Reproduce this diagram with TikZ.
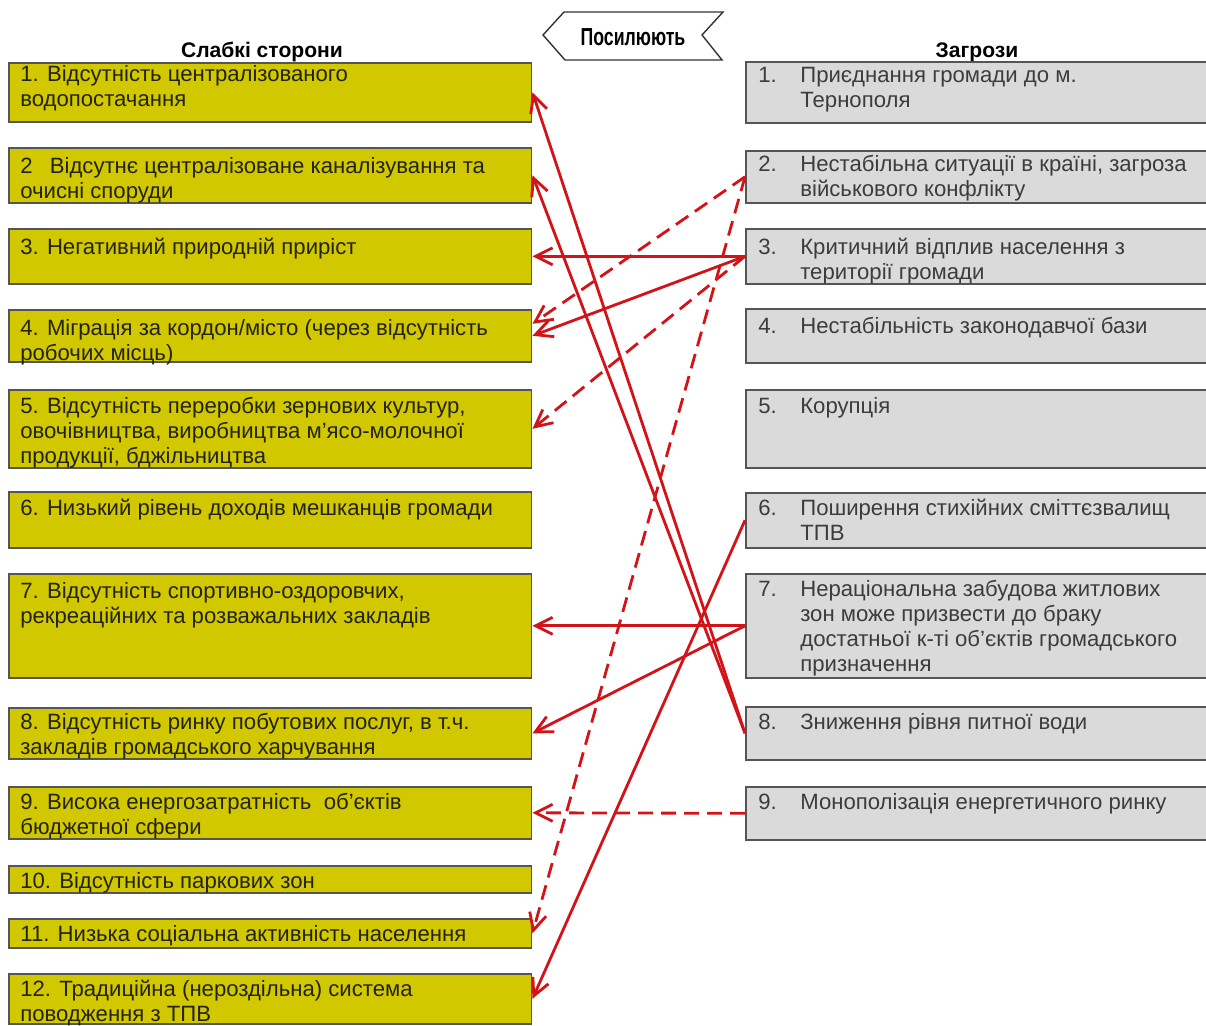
\documentclass[tikz,border=0pt]{standalone}
\usepackage{fontspec}
\setmainfont{Liberation Sans}
\usetikzlibrary{arrows.meta,positioning}
\definecolor{WeakFill}{RGB}{210,200,0}
\definecolor{ThreatFill}{RGB}{218,218,218}
\definecolor{BoxLine}{RGB}{85,85,85}
\definecolor{LinkRed}{RGB}{210,20,25}
\definecolor{WeakText}{RGB}{35,35,10}
\definecolor{ThreatText}{RGB}{60,60,60}
\newcommand\itemfont{\fontsize{12.6}{14.2}\selectfont}
\newcommand\tnum[1]{\makebox[0.84cm][l]{#1}}
\tikzset{
  weak/.style={draw=BoxLine,fill=WeakFill,line width=0.9pt,minimum width=10.46cm,anchor=north west,inner sep=0pt},
  threat/.style={draw=BoxLine,fill=ThreatFill,line width=0.9pt,minimum width=9.4cm,anchor=north west,inner sep=0pt},
  weaktext/.style={align=left,inner sep=0pt,font=\itemfont,text=WeakText},
  threattext/.style={align=left,inner sep=0pt,font=\itemfont,text=ThreatText},
  head/.style={anchor=base,font=\bfseries\fontsize{12}{14}\selectfont},
  tagline/.style={draw=black!80,line width=0.8pt,fill=white},
  tagtext/.style={anchor=base,font=\bfseries\fontsize{14}{16}\selectfont},
  link/.style={-{Straight Barb[length=3.4mm,width=3.4mm]},line width=1.6pt,draw=LinkRed},
  dlink/.style={link,dash pattern=on 3mm off 1.6mm}
}

\begin{document}
\begin{tikzpicture}[x=0.02cm,y=-0.02cm]
\useasboundingbox (0,0) rectangle (1206,1025);

% headers and tag
\node[head] (hweak) at (262,57) {Слабкі сторони};
\node[head] (hthreat) at (977,57) {Загрози};
\draw[tagline] (543,35) -- (564,12) -- (723,12) -- (702,35) -- (722,60) -- (565,60) -- cycle;
\node[tagtext] (amp) at (633,45) {\scalebox{0.72}[1]{Посилюють}};

% weaknesses
\node[weak,minimum height=1.18cm] (w1) at (8,62) {};
\node[weak,minimum height=1.10cm] (w2) at (8,147) {};
\node[weak,minimum height=1.10cm] (w3) at (8,228) {};
\node[weak,minimum height=1.04cm] (w4) at (8,309) {};
\node[weak,minimum height=1.56cm] (w5) at (8,389) {};
\node[weak,minimum height=1.12cm] (w6) at (8,491) {};
\node[weak,minimum height=2.08cm] (w7) at (8,573) {};
\node[weak,minimum height=1.02cm] (w8) at (8,707) {};
\node[weak,minimum height=1.04cm] (w9) at (8,786) {};
\node[weak,minimum height=0.54cm] (w10) at (8,865) {};
\node[weak,minimum height=0.58cm] (w11) at (8,918) {};
\node[weak,minimum height=1.00cm] (w12) at (8,973) {};

\node[weaktext,below right=0.06cm and 0.24cm of w1.north west] (w1t) {1. Відсутність централізованого\\водопостачання};
\node[weaktext,below right=0.20cm and 0.24cm of w2.north west] (w2t) {2\hspace{0.5em} Відсутнє централізоване каналізування та\\очисні споруди};
\node[weaktext,below right=0.20cm and 0.24cm of w3.north west] (w3t) {3. Негативний природній приріст};
\node[weaktext,below right=0.20cm and 0.24cm of w4.north west] (w4t) {4. Міграція за кордон/місто (через відсутність\\робочих місць)};
\node[weaktext,below right=0.16cm and 0.24cm of w5.north west] (w5t) {5. Відсутність переробки зернових культур,\\овочівництва, виробництва м’ясо-молочної\\продукції, бджільництва};
\node[weaktext,below right=0.16cm and 0.24cm of w6.north west] (w6t) {6. Низький рівень доходів мешканців громади};
\node[weaktext,below right=0.18cm and 0.24cm of w7.north west] (w7t) {7. Відсутність спортивно-оздоровчих,\\рекреаційних та розважальних закладів};
\node[weaktext,below right=0.12cm and 0.24cm of w8.north west] (w8t) {8. Відсутність ринку побутових послуг, в т.ч.\\закладів громадського харчування};
\node[weaktext,below right=0.14cm and 0.24cm of w9.north west] (w9t) {9. Висока енергозатратність\ \ об’єктів\\бюджетної сфери};
\node[weaktext,below right=0.14cm and 0.24cm of w10.north west] (w10t) {10. Відсутність паркових зон};
\node[weaktext,below right=0.14cm and 0.24cm of w11.north west] (w11t) {11. Низька соціальна активність населення};
\node[weaktext,below right=0.14cm and 0.24cm of w12.north west] (w12t) {12. Традиційна (нероздільна) система\\поводження з ТПВ};

% threats
\node[threat,minimum height=1.22cm] (t1) at (745,61) {};
\node[threat,minimum height=1.04cm] (t2) at (745,150) {};
\node[threat,minimum height=1.10cm] (t3) at (745,228) {};
\node[threat,minimum height=1.08cm] (t4) at (745,308) {};
\node[threat,minimum height=1.56cm] (t5) at (745,389) {};
\node[threat,minimum height=1.10cm] (t6) at (745,492) {};
\node[threat,minimum height=2.08cm] (t7) at (745,573) {};
\node[threat,minimum height=1.06cm] (t8) at (745,706) {};
\node[threat,minimum height=1.06cm] (t9) at (745,786) {};

\node[threattext,below right=0.12cm and 0.26cm of t1.north west] (t1t) {\tnum{1.}Приєднання громади до м.\\\tnum{}Тернополя};
\node[threattext,below right=0.10cm and 0.26cm of t2.north west] (t2t) {\tnum{2.}Нестабільна ситуації в країні, загроза\\\tnum{}військового конфлікту};
\node[threattext,below right=0.20cm and 0.26cm of t3.north west] (t3t) {\tnum{3.}Критичний відплив населення з\\\tnum{}території громади};
\node[threattext,below right=0.18cm and 0.26cm of t4.north west] (t4t) {\tnum{4.}Нестабільність законодавчої бази};
\node[threattext,below right=0.16cm and 0.26cm of t5.north west] (t5t) {\tnum{5.}Корупція};
\node[threattext,below right=0.14cm and 0.26cm of t6.north west] (t6t) {\tnum{6.}Поширення стихійних сміттєзвалищ\\\tnum{}ТПВ};
\node[threattext,below right=0.14cm and 0.26cm of t7.north west] (t7t) {\tnum{7.}Нераціональна забудова житлових\\\tnum{}зон може призвести до браку\\\tnum{}достатньої к-ті об’єктів громадського\\\tnum{}призначення};
\node[threattext,below right=0.14cm and 0.26cm of t8.north west] (t8t) {\tnum{8.}Зниження рівня питної води};
\node[threattext,below right=0.14cm and 0.26cm of t9.north west] (t9t) {\tnum{9.}Монополізація енергетичного ринку};

% links
\draw[link] (t8.west) -- (w1.east);
\draw[link] (t8.west) -- (w2.east);
\draw[link] (t3.west) -- (w3.east);
\draw[link] (t3.west) -- (w4.east);
\draw[dlink] (t2.west) -- ([yshift=0.24cm]w4.east);
\draw[dlink] (t3.west) -- (w5.east);
\draw[dlink] (t2.west) -- (w11.east);
\draw[link] (t7.west) -- (w7.east);
\draw[link] (t7.west) -- (w8.east);
\draw[link] (t6.west) -- (w12.east);
\draw[dlink] (t9.west) -- (w9.east);
\end{tikzpicture}
\end{document}
